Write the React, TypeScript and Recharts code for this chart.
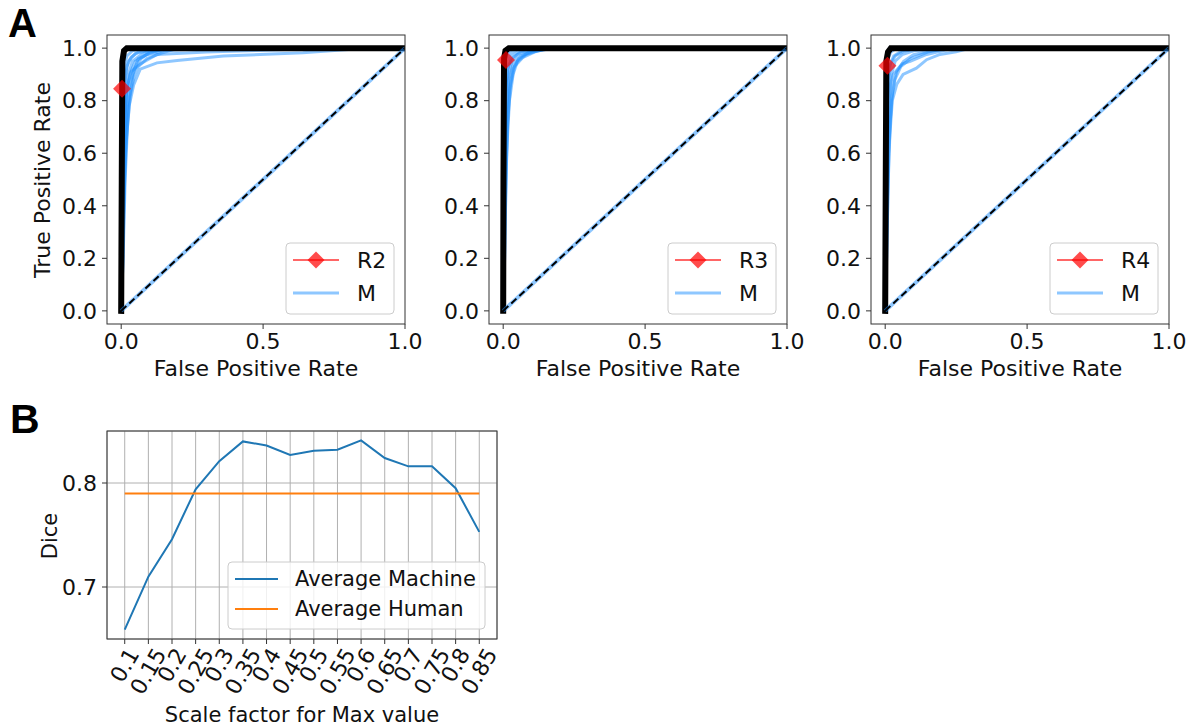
import React from 'react';
import { LineChart, Line, XAxis, YAxis, CartesianGrid } from 'recharts';

// ---- panel A: ROC curves (fpr, tpr) ----
const fprTicks = [0, 0.5, 1];
const tprTicks = [0, 0.2, 0.4, 0.6, 0.8, 1];
const chance: [number, number][] = [[0, 0], [1, 1]];

const bestR2: [number, number][] = [[0, 0], [0.002, 0.5], [0.004, 0.95], [0.01, 0.99], [0.02, 1], [1, 1]];
const bestR3: [number, number][] = [[0, 0], [0.001, 0.5], [0.003, 0.96], [0.008, 0.99], [0.02, 1], [1, 1]];
const bestR4: [number, number][] = [[0, 0], [0.002, 0.5], [0.004, 0.95], [0.01, 0.985], [0.02, 1], [1, 1]];

const machineR2: [number, number][][] = [
  [[0, 0], [0.006, 0.3], [0.015, 0.6], [0.028, 0.78], [0.044, 0.86], [0.067, 0.92], [0.126, 0.944], [0.197, 0.953], [0.36, 0.97], [0.64, 0.982], [0.8, 0.995], [1, 1]],
  [[0, 0], [0.005, 0.4], [0.012, 0.7], [0.02, 0.85], [0.035, 0.91], [0.067, 0.94], [0.126, 0.976], [0.3, 0.985], [0.6, 0.995], [1, 1]],
  [[0, 0], [0.003, 0.5], [0.008, 0.8], [0.015, 0.9], [0.025, 0.95], [0.05, 0.98], [0.1, 0.99], [0.2, 1], [1, 1]],
  [[0, 0], [0.002, 0.6], [0.005, 0.85], [0.01, 0.93], [0.02, 0.97], [0.04, 0.99], [0.08, 1], [1, 1]],
  [[0, 0], [0.001, 0.7], [0.003, 0.9], [0.006, 0.96], [0.012, 0.99], [0.03, 1], [1, 1]],
  [[0, 0], [0.004, 0.35], [0.01, 0.65], [0.018, 0.82], [0.03, 0.9], [0.05, 0.95], [0.09, 0.975], [0.15, 0.99], [0.3, 1], [1, 1]],
  [[0, 0], [0.008, 0.25], [0.014, 0.5], [0.022, 0.7], [0.032, 0.82], [0.045, 0.89], [0.06, 0.93], [0.09, 0.96], [0.14, 0.98], [0.2, 1], [1, 1]],
  [[0, 0], [0.006, 0.2], [0.011, 0.45], [0.018, 0.65], [0.027, 0.8], [0.042, 0.9], [0.06, 0.96], [0.1, 0.98], [0.16, 1], [1, 1]],
  [[0, 0], [0.004, 0.3], [0.009, 0.6], [0.016, 0.8], [0.025, 0.9], [0.04, 0.95], [0.07, 0.975], [0.1, 0.99], [0.15, 1], [1, 1]],
  [[0, 0], [0.002, 0.4], [0.006, 0.7], [0.012, 0.86], [0.02, 0.93], [0.035, 0.965], [0.06, 0.985], [0.12, 1], [1, 1]],
  [[0, 0], [0.005, 0.15], [0.009, 0.4], [0.013, 0.62], [0.02, 0.76], [0.03, 0.86], [0.045, 0.92], [0.07, 0.96], [0.1, 0.985], [0.18, 1], [1, 1]],
];
const machineR3: [number, number][][] = [
  [[0, 0], [0.004, 0.4], [0.01, 0.75], [0.02, 0.88], [0.035, 0.94], [0.06, 0.97], [0.1, 0.985], [0.15, 0.995], [0.25, 1], [1, 1]],
  [[0, 0], [0.003, 0.5], [0.008, 0.82], [0.015, 0.92], [0.03, 0.96], [0.06, 0.985], [0.12, 0.995], [0.2, 1], [1, 1]],
  [[0, 0], [0.002, 0.65], [0.005, 0.88], [0.012, 0.95], [0.025, 0.98], [0.05, 0.995], [0.1, 1], [1, 1]],
  [[0, 0], [0.001, 0.75], [0.003, 0.92], [0.008, 0.97], [0.02, 0.99], [0.04, 1], [1, 1]],
  [[0, 0], [0.005, 0.3], [0.012, 0.6], [0.022, 0.8], [0.035, 0.9], [0.05, 0.95], [0.08, 0.975], [0.12, 0.99], [0.18, 1], [1, 1]],
  [[0, 0], [0.006, 0.25], [0.01, 0.5], [0.016, 0.72], [0.026, 0.86], [0.04, 0.93], [0.07, 0.965], [0.11, 0.985], [0.16, 1], [1, 1]],
  [[0, 0], [0.004, 0.3], [0.008, 0.6], [0.013, 0.8], [0.02, 0.9], [0.03, 0.95], [0.05, 0.975], [0.09, 0.99], [0.14, 1], [1, 1]],
  [[0, 0], [0.003, 0.45], [0.006, 0.72], [0.01, 0.86], [0.018, 0.93], [0.03, 0.97], [0.06, 0.99], [0.1, 1], [1, 1]],
  [[0, 0], [0.005, 0.2], [0.009, 0.45], [0.014, 0.68], [0.022, 0.84], [0.034, 0.92], [0.055, 0.96], [0.09, 0.985], [0.13, 1], [1, 1]],
];
const machineR4: [number, number][][] = [
  [[0, 0], [0.005, 0.3], [0.012, 0.6], [0.025, 0.8], [0.041, 0.863], [0.063, 0.9], [0.11, 0.924], [0.146, 0.956], [0.193, 0.976], [0.25, 0.986], [0.3, 1], [1, 1]],
  [[0, 0], [0.004, 0.45], [0.01, 0.75], [0.018, 0.86], [0.028, 0.9], [0.06, 0.94], [0.088, 0.95], [0.146, 0.976], [0.22, 0.995], [0.28, 1], [1, 1]],
  [[0, 0], [0.003, 0.6], [0.007, 0.85], [0.015, 0.93], [0.03, 0.97], [0.06, 0.99], [0.12, 1], [1, 1]],
  [[0, 0], [0.002, 0.7], [0.004, 0.9], [0.01, 0.96], [0.02, 0.985], [0.04, 1], [1, 1]],
  [[0, 0], [0.001, 0.8], [0.003, 0.93], [0.007, 0.98], [0.015, 1], [1, 1]],
  [[0, 0], [0.006, 0.25], [0.011, 0.5], [0.018, 0.72], [0.027, 0.85], [0.04, 0.91], [0.065, 0.95], [0.1, 0.975], [0.16, 0.99], [0.24, 1], [1, 1]],
  [[0, 0], [0.004, 0.35], [0.008, 0.62], [0.014, 0.8], [0.022, 0.9], [0.035, 0.95], [0.06, 0.975], [0.1, 0.99], [0.18, 1], [1, 1]],
  [[0, 0], [0.003, 0.5], [0.006, 0.75], [0.011, 0.88], [0.02, 0.94], [0.035, 0.97], [0.07, 0.99], [0.12, 1], [1, 1]],
  [[0, 0], [0.005, 0.2], [0.009, 0.42], [0.014, 0.65], [0.022, 0.8], [0.034, 0.88], [0.055, 0.93], [0.09, 0.96], [0.15, 0.985], [0.22, 1], [1, 1]],
];

const readerR2: [number, number] = [0.003, 0.845];
const readerR3: [number, number] = [0.01, 0.955];
const readerR4: [number, number] = [0.008, 0.933];

// ---- panel B: dice vs scale factor ----
const scaleFactors = [0.1, 0.15, 0.2, 0.25, 0.3, 0.35, 0.4, 0.45, 0.5, 0.55, 0.6, 0.65, 0.7, 0.75, 0.8, 0.85];
const machineDice = [0.659, 0.71, 0.746, 0.794, 0.821, 0.84, 0.836, 0.827, 0.831, 0.832, 0.841, 0.824, 0.816, 0.816, 0.795, 0.753];
const humanDice = [0.79, 0.79, 0.79, 0.79, 0.79, 0.79, 0.79, 0.79, 0.79, 0.79, 0.79, 0.79, 0.79, 0.79, 0.79, 0.79];
const diceTicks = [0.7, 0.8];

const FONT = '"DejaVu Sans", sans-serif';
const BLUE = '#1e90ff';

const toPts = (arr: [number, number][]) => arr.map(([x, y]) => ({ x, y }));

// layout of panel A plots
const A_TOP = 35;
const A_W = 298;
const A_H = 289;
const YW = 70;
const XH = 60;
const PAD = 5;
const RPAD = 30;

interface RocProps {
  plotLeft: number;
  curves: [number, number][][];
  best: [number, number][];
  reader: [number, number];
}

function Diamond(props: any) {
  const { cx, cy } = props;
  if (cx == null || cy == null) return <g />;
  const r = 9;
  return (
    <polygon
      points={`${cx},${cy - r} ${cx + r},${cy} ${cx},${cy + r} ${cx - r},${cy}`}
      fill="red"
      fillOpacity={0.7}
    />
  );
}

function RocPanel({ plotLeft, curves, best, reader }: RocProps) {
  const tick = { fontSize: 22, fill: '#111', fontFamily: FONT };
  return (
    <div style={{ position: 'absolute', left: plotLeft - YW, top: A_TOP - PAD }}>
      <LineChart
        width={YW + A_W + RPAD}
        height={PAD + A_H + XH}
        margin={{ top: PAD, right: RPAD, left: 0, bottom: 0 }}
      >
        <XAxis
          type="number"
          dataKey="x"
          domain={[-0.05, 1]}
          ticks={fprTicks}
          interval={0}
          tickFormatter={(v: number) => v.toFixed(1)}
          height={XH}
          axisLine={false}
          tickSize={5}
          tickMargin={4}
          tickLine={{ stroke: '#333' }}
          tick={tick}
          allowDataOverflow
        />
        <YAxis
          type="number"
          dataKey="y"
          domain={[-0.05, 1.05]}
          ticks={tprTicks}
          interval={0}
          tickFormatter={(v: number) => v.toFixed(1)}
          width={YW}
          axisLine={false}
          tickSize={5}
          tickMargin={5}
          tickLine={{ stroke: '#333' }}
          tick={tick}
          allowDataOverflow
        />
        {curves.map((c, i) => (
          <Line
            key={'m' + i}
            data={toPts(c)}
            dataKey="y"
            type="linear"
            stroke={BLUE}
            strokeOpacity={0.5}
            strokeWidth={3}
            dot={false}
            activeDot={false}
            isAnimationActive={false}
          />
        ))}
        <Line
          data={toPts(best)}
          dataKey="y"
          type="linear"
          stroke="#000"
          strokeWidth={6}
          strokeLinecap="square"
          dot={false}
          activeDot={false}
          isAnimationActive={false}
        />
        <Line
          data={toPts(chance)}
          dataKey="y"
          stroke={BLUE}
          strokeOpacity={0.5}
          strokeWidth={4}
          dot={false}
          activeDot={false}
          isAnimationActive={false}
        />
        <Line
          data={toPts(chance)}
          dataKey="y"
          stroke="#000"
          strokeWidth={2}
          strokeDasharray="7 4"
          dot={false}
          activeDot={false}
          isAnimationActive={false}
        />
        <Line
          data={toPts([reader])}
          dataKey="y"
          stroke="none"
          dot={<Diamond />}
          activeDot={false}
          isAnimationActive={false}
        />
      </LineChart>
    </div>
  );
}

// panel B layout
const B_LEFT = 107;
const B_TOP = 431;
const B_W = 390;
const B_H = 208;

function RotTick(props: any) {
  const { x, y, payload } = props;
  const label = String(payload.value);
  const fs = 22;
  let w = 0;
  for (const ch of label) w += ch === '.' ? 0.318 : 0.636;
  w = (w - 0.1) * fs;
  const h = 0.73 * fs;
  const bh = w * 0.866 + h * 0.5;
  const cy = y + 3 + bh / 2;
  return (
    <text
      x={x}
      y={cy}
      textAnchor="middle"
      dominantBaseline="central"
      transform={`rotate(-60, ${x}, ${cy})`}
      fontSize={fs}
      fontFamily={FONT}
      fill="#111"
    >
      {label}
    </text>
  );
}

function DicePanel() {
  const rows = scaleFactors.map((s, i) => ({ s, machine: machineDice[i], human: humanDice[i] }));
  return (
    <div style={{ position: 'absolute', left: B_LEFT - YW, top: B_TOP - PAD }}>
      <LineChart
        width={YW + B_W + RPAD}
        height={PAD + B_H + 90}
        data={rows}
        margin={{ top: PAD, right: RPAD, left: 0, bottom: 0 }}
      >
        <CartesianGrid stroke="#b0b0b0" strokeWidth={1} />
        <XAxis
          type="number"
          dataKey="s"
          domain={[0.0625, 0.8875]}
          ticks={scaleFactors}
          interval={0}
          height={90}
          axisLine={false}
          tickSize={5}
          tickMargin={0}
          tickLine={{ stroke: '#333' }}
          tick={<RotTick />}
          allowDataOverflow
        />
        <YAxis
          type="number"
          domain={[0.65, 0.85]}
          ticks={diceTicks}
          interval={0}
          tickFormatter={(v: number) => v.toFixed(1)}
          width={YW}
          axisLine={false}
          tickSize={5}
          tickMargin={5}
          tickLine={{ stroke: '#333' }}
          tick={{ fontSize: 22, fill: '#111', fontFamily: FONT }}
          allowDataOverflow
        />
        <Line
          dataKey="machine"
          type="linear"
          stroke="#1f77b4"
          strokeWidth={2}
          dot={false}
          activeDot={false}
          isAnimationActive={false}
        />
        <Line
          dataKey="human"
          type="linear"
          stroke="#ff7f0e"
          strokeWidth={2}
          dot={false}
          activeDot={false}
          isAnimationActive={false}
        />
      </LineChart>
    </div>
  );
}

function RocLegend({ plotLeft, name }: { plotLeft: number; name: string }) {
  const bx = plotLeft + A_W - 11 - 108;
  const by = A_TOP + A_H - 10 - 71;
  const r = 8.5;
  const dx = bx + 30;
  const dy = by + 17;
  return (
    <g>
      <rect x={bx} y={by} width={108} height={71} rx={4} fill="#fff" fillOpacity={0.8} stroke="#ccc" />
      <line x1={bx + 7} x2={bx + 53} y1={dy} y2={dy} stroke="red" strokeOpacity={0.6} strokeWidth={2} />
      <polygon points={`${dx},${dy - r} ${dx + r},${dy} ${dx},${dy + r} ${dx - r},${dy}`} fill="red" fillOpacity={0.7} />
      <text x={bx + 71} y={dy} dominantBaseline="central" fontSize={22} fontFamily={FONT} fill="#111">{name}</text>
      <line x1={bx + 7} x2={bx + 53} y1={by + 50} y2={by + 50} stroke={BLUE} strokeOpacity={0.5} strokeWidth={3} />
      <text x={bx + 71} y={by + 50} dominantBaseline="central" fontSize={22} fontFamily={FONT} fill="#111">M</text>
    </g>
  );
}

const panels = [
  { left: 107, curves: machineR2, best: bestR2, reader: readerR2, name: 'R2' },
  { left: 489, curves: machineR3, best: bestR3, reader: readerR3, name: 'R3' },
  { left: 871, curves: machineR4, best: bestR4, reader: readerR4, name: 'R4' },
];

export default function App() {
  return (
    <div style={{ position: 'absolute', left: 0, top: 0, width: 1195, height: 728, background: '#fff', fontFamily: FONT }}>
      {panels.map((p) => (
        <RocPanel key={p.name} plotLeft={p.left} curves={p.curves} best={p.best} reader={p.reader} />
      ))}
      <DicePanel />
      <svg width={1195} height={728} style={{ position: 'absolute', left: 0, top: 0, pointerEvents: 'none' }}>
        <text x={8} y={37} fontSize={40} fontWeight="bold" fontFamily='"Liberation Sans", Arial, sans-serif' fill="#000">A</text>
        <text x={10} y={433} fontSize={41} fontWeight="bold" fontFamily='"Liberation Sans", Arial, sans-serif' fill="#000">B</text>
        {panels.map((p) => (
          <g key={'f' + p.name}>
            <rect x={p.left} y={A_TOP} width={A_W} height={A_H} fill="none" stroke="#333" strokeWidth={1} />
            <text x={p.left + A_W / 2} y={368} textAnchor="middle" dominantBaseline="central" fontSize={22} fontFamily={FONT} fill="#111">
              False Positive Rate
            </text>
            <RocLegend plotLeft={p.left} name={p.name} />
          </g>
        ))}
        <text transform="translate(42,180) rotate(-90)" textAnchor="middle" dominantBaseline="central" fontSize={22} fontFamily={FONT} fill="#111">
          True Positive Rate
        </text>
        <rect x={B_LEFT} y={B_TOP} width={B_W} height={B_H} fill="none" stroke="#333" strokeWidth={1} />
        <text transform="translate(50,536) rotate(-90)" textAnchor="middle" dominantBaseline="central" fontSize={21} fontFamily={FONT} fill="#111">
          Dice
        </text>
        <text x={302} y={715} textAnchor="middle" dominantBaseline="central" fontSize={21} fontFamily={FONT} fill="#111">
          Scale factor for Max value
        </text>
        <g>
          <rect x={228} y={562} width={257} height={67} rx={4} fill="#fff" fillOpacity={0.8} stroke="#ccc" />
          <line x1={235} x2={278} y1={579} y2={579} stroke="#1f77b4" strokeWidth={2} />
          <text x={295} y={579} dominantBaseline="central" fontSize={21} fontFamily={FONT} fill="#111">Average Machine</text>
          <line x1={235} x2={278} y1={609} y2={609} stroke="#ff7f0e" strokeWidth={2} />
          <text x={295} y={609} dominantBaseline="central" fontSize={21} fontFamily={FONT} fill="#111">Average Human</text>
        </g>
      </svg>
    </div>
  );
}
